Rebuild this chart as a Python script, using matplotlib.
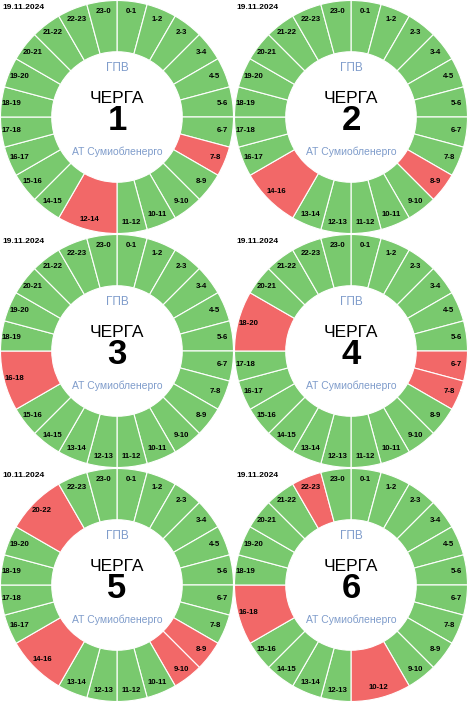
import matplotlib.pyplot as plt

plt.rcParams['font.family'] = ['Liberation Sans', 'DejaVu Sans']

# outage blocks per queue (hours), everything else is "power on"
queue1_off = ["7-8", "12-14"]
queue2_off = ["8-9", "14-16"]
queue3_off = ["16-18"]
queue4_off = ["6-7", "7-8", "18-20"]
queue5_off = ["8-9", "9-10", "14-16", "20-22"]
queue6_off = ["10-12", "16-18", "22-23"]

queues = [1, 2, 3, 4, 5, 6]
dates = ["19.11.2024", "19.11.2024", "19.11.2024", "19.11.2024", "10.11.2024", "19.11.2024"]
outages = [queue1_off, queue2_off, queue3_off, queue4_off, queue5_off, queue6_off]

title_top = "ГПВ"
title_mid = "ЧЕРГА"
company = "АТ Сумиобленерго"

GREEN = "#79c96e"
RED = "#f26868"
BLUE = "#7f9ccb"


def build_segments(off_list):
    """Split the 24 hours into labelled segments, merging outage blocks."""
    starts = {}
    for s in off_list:
        a, b = s.split("-")
        starts[int(a)] = (int(b) if int(b) != 0 else 24, s)
    labels, sizes, colors = [], [], []
    h = 0
    while h < 24:
        if h in starts:
            end, lab = starts[h]
            labels.append(lab)
            sizes.append(end - h)
            colors.append(RED)
            h = end
        else:
            labels.append(f"{h}-{(h + 1) % 24}")
            sizes.append(1)
            colors.append(GREEN)
            h += 1
    return labels, sizes, colors


W, H = 468, 703
fig = plt.figure(figsize=(W / 100, H / 100), dpi=100)
cell = 234

for i, q in enumerate(queues):
    row, col = divmod(i, 2)
    ax = fig.add_axes([col * cell / W, 1 - (row + 1) * cell / H, cell / W, cell / H])
    labels, sizes, colors = build_segments(outages[i])
    wedges, texts = ax.pie(
        sizes, labels=labels, colors=colors, startangle=90, counterclock=False,
        labeldistance=0.91, radius=1.0,
        wedgeprops=dict(width=0.44, edgecolor="white", linewidth=0.8),
        textprops=dict(fontsize=5.6, fontweight="bold", color="black"),
    )
    for t in texts:
        t.set_ha("center")
        t.set_va("center")
    lim = 117 / 116.5
    ax.set_xlim(-lim, lim)
    ax.set_ylim(-lim, lim)
    ax.set_aspect("equal")
    ax.axis("off")

    ax.text(0, 0.42, title_top, ha="center", va="center", fontsize=8.5, color=BLUE)
    ax.text(0, 0.16, title_mid, ha="center", va="center", fontsize=12.5, color="black")
    ax.text(0, -0.03, str(q), ha="center", va="center", fontsize=25, fontweight="bold", color="black")
    ax.text(0, -0.30, company, ha="center", va="center", fontsize=7.5, color=BLUE)
    ax.text(0.012, 0.985, dates[i], ha="left", va="top", fontsize=6, fontweight="bold",
            transform=ax.transAxes)

fig.savefig("out.png", dpi=100, facecolor="white")
